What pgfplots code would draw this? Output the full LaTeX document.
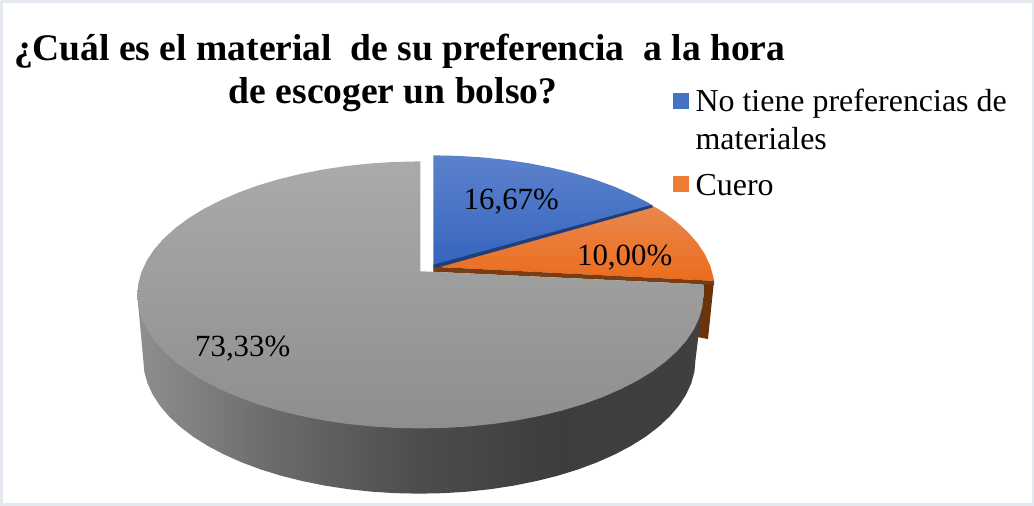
\documentclass[border=0pt]{standalone}
\usepackage{pgfplots}
\pgfplotsset{compat=1.18}
\usepackage{fontspec}
\setmainfont{Liberation Serif}
\definecolor{frameC}{HTML}{E4E8F0}
\definecolor{legblue}{RGB}{68,114,196}
\definecolor{legorange}{RGB}{237,125,49}
\pgfdeclarehorizontalshading{wallshade}{100bp}{
  color(0bp)=(black!44!white);
  color(25bp)=(black!44!white);
  color(37bp)=(black!58!white);
  color(50bp)=(black!70!white);
  color(62bp)=(black!76!white);
  color(75bp)=(black!75!white);
  color(100bp)=(black!75!white)}
\begin{document}
\begin{tikzpicture}
\begin{axis}[
  scale only axis, width=1034pt, height=507pt,
  xmin=-1, xmax=1033, ymin=-2, ymax=505, y dir=reverse,
  axis lines=none, clip=false]
% frame
\addplot[draw=frameC, line width=2.5pt, no markers] coordinates {(2.5,2.5)(1030,2.5)(1030,503.7)(2.5,503.7)(2.5,2.5)};
% orange slice wall
\addplot[draw=none, fill={rgb,255:red,107;green,51;blue,10}, no markers] coordinates {(712.5,281)(706.5,339)(696,337)(696,283)(712.5,281)};
% orange top
\addplot[draw=none, shade, top color={rgb,255:red,232;green,136;blue,78}, bottom color={rgb,255:red,236;green,108;blue,28}, no markers] coordinates {
(433,267)(651,206)(662.4,212.7)(675.5,222.5)(686.8,232.8)(696.1,243.5)(703.5,254.6)(708.7,265.9)(711.9,277.4)(712.5,281)(433,267)};
% blue top
\addplot[draw=none, shade, top color={rgb,255:red,92;green,130;blue,204}, bottom color={rgb,255:red,54;green,100;blue,190}, no markers] coordinates {
(433,266)(433,156)(457.4,156.5)(481.6,158)(505.5,160.5)(528.8,164)(551.3,168.5)(573,173.8)(593.6,180)(613,187.1)(631,195)(647.5,203.5)(651,206)(433,266)};
% inner edges of the exploded slices
\addplot[draw=none, fill={rgb,255:red,32;green,62;blue,122}, no markers] coordinates {(433,265)(651,205.2)(651,208)(433,269)(433,265)};
\addplot[draw=none, fill={rgb,255:red,122;green,60;blue,16}, no markers] coordinates {(433,267)(712.5,281)(712.5,285)(702,284.5)(433,272)(433,267)};
% gray wall
\addplot[draw=none, shading=wallshade, no markers] coordinates {
(138,295)(144,360)(145,371.6)(148.2,383.1)(153.4,394.4)(160.6,405.5)(169.8,416.2)(180.8,426.5)(193.7,436.3)(208.3,445.5)(224.5,454)(242.2,461.9)(261.3,469)(281.5,475.2)(302.8,480.5)(325,485)(347.8,488.5)(371.3,491)(395,492.5)(419,493)(443,492.5)(466.7,491)(490.2,488.5)(513,485)(535.2,480.5)(556.5,475.2)(576.7,469)(595.8,461.9)(613.5,454)(629.7,445.5)(644.3,436.3)(657.2,426.5)(668.2,416.2)(677.4,405.5)(684.6,394.4)(689.8,383.1)(693,371.6)(694,360)(702,295)(138,295)};
% gray top
\addplot[draw=none, shade, top color={rgb,255:red,170;green,170;blue,170}, bottom color={rgb,255:red,142;green,142;blue,142}, no markers] coordinates {
(420,271.5)(420,162)(395.4,162.5)(371,164)(347,166.5)(323.6,170)(300.8,174.5)(279,179.8)(258.2,186)(238.7,193.1)(220.6,201)(204,209.5)(189,218.7)(175.8,228.5)(164.4,238.8)(155,249.5)(147.6,260.6)(142.3,271.9)(139.1,283.4)(138,295)
(139.1,306.6)(142.3,318.1)(147.6,329.4)(155,340.5)(164.4,351.2)(175.8,361.5)(189,371.3)(204,380.5)(220.6,389)(238.7,396.9)(258.2,404)(279,410.2)(300.8,415.5)(323.6,420)(347,423.5)(371,426)(395.4,427.5)(420,428)(444.6,427.5)(469,426)(493,423.5)(516.4,420)(539.2,415.5)(561,410.2)(581.8,404)(601.3,396.9)(619.4,389)(636,380.5)(651,371.3)(664.2,361.5)(675.6,351.2)(685,340.5)(692.4,329.4)(697.7,318.1)(700.9,306.6)(702,295)(702,284.5)(433,272)(420,271.5)};
% legend markers
\addplot[only marks, color=legblue, mark=square*, mark size=7.5pt, mark options={draw=legblue, fill=legblue, line width=0pt}] coordinates {(680,102)};
\addplot[only marks, color=legorange, mark=square*, mark size=7.5pt, mark options={draw=legorange, fill=legorange, line width=0pt}] coordinates {(680,185)};
% texts
\node[anchor=base west, inner sep=0pt] at (axis cs:15,62) {\fontsize{37.4}{40}\selectfont\bfseries ¿Cuál es el material\ \ de su preferencia\ \ a la hora};
\node[anchor=base west, inner sep=0pt] at (axis cs:229,104) {\fontsize{37.4}{40}\selectfont\bfseries de escoger un bolso?};
\node[anchor=base west, inner sep=0pt] at (axis cs:694,112.5) {\fontsize{31.8}{36}\selectfont No tiene preferencias de};
\node[anchor=base west, inner sep=0pt] at (axis cs:694,150) {\fontsize{31.8}{36}\selectfont materiales};
\node[anchor=base west, inner sep=0pt] at (axis cs:694,195.5) {\fontsize{31.8}{36}\selectfont Cuero};
\node[anchor=base, inner sep=0pt] at (axis cs:510.5,210) {\fontsize{30.7}{36}\selectfont 16,67\%};
\node[anchor=base, inner sep=0pt] at (axis cs:623.5,265.5) {\fontsize{30.7}{36}\selectfont 10,00\%};
\node[anchor=base, inner sep=0pt] at (axis cs:243,356) {\fontsize{30.7}{36}\selectfont 73,33\%};
\end{axis}
\end{tikzpicture}
\end{document}
